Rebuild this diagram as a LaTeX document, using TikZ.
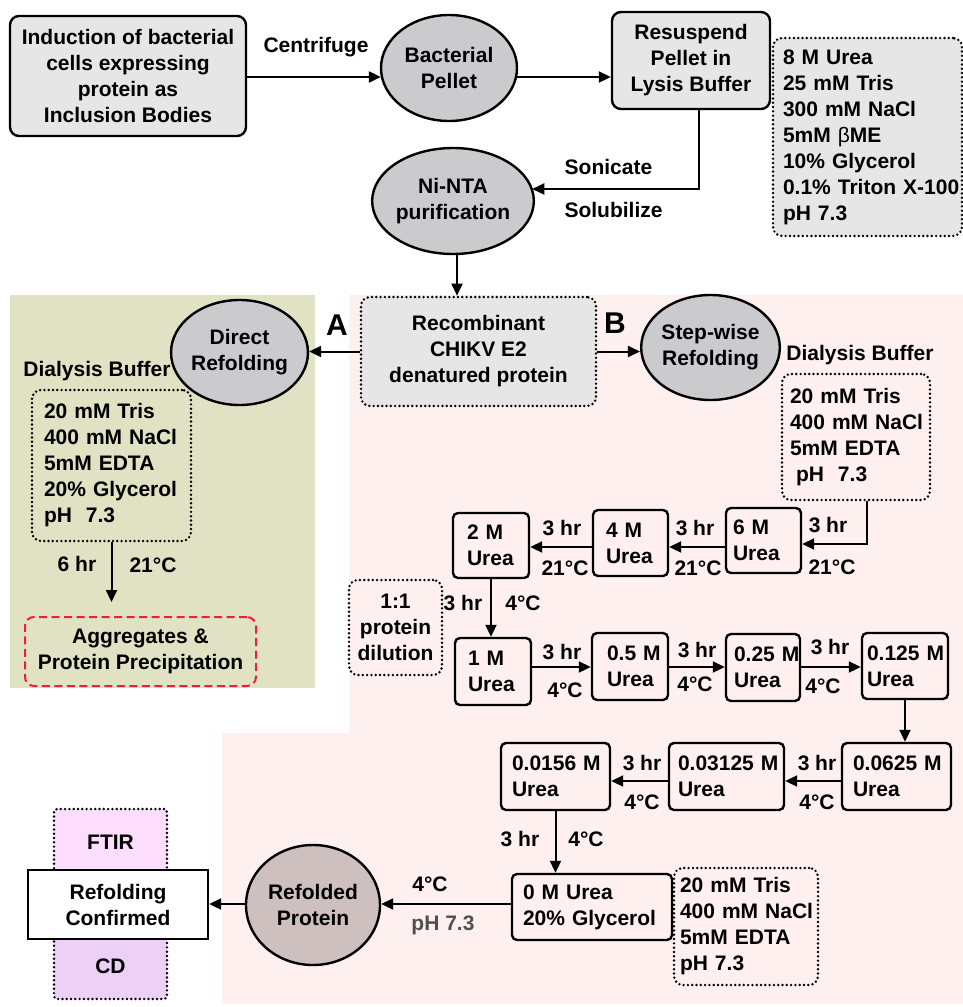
\documentclass[tikz,border=0pt]{standalone}
\usepackage{fontspec}
\setmainfont{Liberation Sans}
\usetikzlibrary{arrows.meta,shapes.geometric}
\definecolor{greenbg}{HTML}{E1E1C3}
\definecolor{pinkbg}{HTML}{FDF0EF}
\definecolor{boxgray}{HTML}{E6E6E6}
\definecolor{ellgray}{HTML}{CBCACD}
\definecolor{refold}{HTML}{CEC0BE}
\definecolor{ftircol}{HTML}{FDDDFC}
\definecolor{cdcol}{HTML}{EDD0F5}
\definecolor{aggred}{HTML}{E8203A}
\definecolor{phgray}{HTML}{505050}
\newcommand{\keepline}[1]{\mbox{#1}}
\begin{document}
\begin{tikzpicture}[x=1pt,y=-1pt,
  every node/.style={font=\fontsize{21}{26}\selectfont\bfseries, inner sep=0pt},
  arr/.style={line width=2pt,-{Triangle[length=12pt,width=11pt]}},
  solidbox/.style={draw, line width=2.4pt, rounded corners=9pt, fill=boxgray, align=center},
  dotbox/.style={draw, line width=2.7pt, dash pattern=on 0pt off 4.3pt, line cap=round, rounded corners=9pt},
  ell/.style={ellipse, draw, line width=2.4pt, fill=ellgray, align=center},
  ubox/.style={draw, line width=2.4pt, rounded corners=5pt, align=left},
  biglab/.style={font=\fontsize{30}{30}\selectfont\bfseries}
]
\useasboundingbox (0,0) rectangle (963,1007);
% backgrounds
\fill[greenbg] (10,295) rectangle (315,688);
\fill[pinkbg] (349,295) -- (963,295) -- (963,1004) -- (222,1004) -- (222,733) -- (349,733) -- cycle;

% helper coordinates
\coordinate (y77) at (0,77);
\coordinate (c1) at (699,189);
\coordinate (x457) at (457,0);
\coordinate (c2) at (867,544);
\coordinate (y547) at (0,547);
\coordinate (y667) at (0,667);
\coordinate (y781) at (0,781);
\coordinate (y904) at (0,904);

% top row
\node[solidbox, minimum width=236pt, minimum height=120pt] (ind) at (128,76) {Induction of bacterial\\cells expressing\\protein as\\Inclusion Bodies};
\node[ell, minimum width=136pt, minimum height=106pt] (bp) at (449,68) {Bacterial\\Pellet};
\node[solidbox, minimum width=158pt, minimum height=97pt] (res) at (691,60.5) {Resuspend\\Pellet in\\Lysis Buffer};
\node[dotbox, fill=boxgray, minimum width=189pt, minimum height=198pt, text width=169pt, inner xsep=10pt, align=left] (lys) at (867.5,137) {8~M~Urea\\25~mM~Tris\\300~mM~NaCl\\5mM~{\mdseries β}ME\\10\%~Glycerol\\\keepline{0.1\% Triton X-100}\\pH~7.3};
\node[ell, minimum width=137pt, minimum height=106pt] (ni) at (453,201) {Ni-NTA\\purification};

\node (lcent) at (316,47) {Centrifuge};
\node (lson) at (608.5,167) {Sonicate};
\node (lsol) at (613.5,210) {Solubilize};

\draw[arr] (ind.east |- y77) -- (bp.188 |- y77);
\draw[arr] (bp.352 |- y77) -- (res.west |- y77);
\draw[arr] (res.south -| c1) -- (c1) -- (ni.10 |- c1);

% recombinant and branches
\node[dotbox, fill=boxgray, minimum width=235pt, minimum height=109pt, align=center] (rec) at (478.5,351.5) {Recombinant\\CHIKV E2\\denatured protein};
\draw[arr] (ni.south -| x457) -- (rec.north -| x457);
\node[ell, minimum width=135pt, minimum height=105pt] (dr) at (239.5,352.5) {Direct\\Refolding};
\node[ell, minimum width=135pt, minimum height=105pt] (sw) at (710.5,347.5) {Step-wise\\Refolding};
\node[biglab] (A) at (337,325) {A};
\node[biglab] (B) at (615,323) {B};
\draw[arr] (rec.west) -- (dr.east |- rec.west);
\draw[arr] (rec.east) -- (sw.west |- rec.east);

% branch A
\node (dbl) at (97,371) {Dialysis Buffer};
\node[dotbox, minimum width=159pt, minimum height=151pt, text width=135pt, inner xsep=12pt, align=left] (bl) at (111.5,465.5) {20~mM~Tris\\400~mM~NaCl\\5mM~EDTA\\20\%~Glycerol\\pH~~7.3};
\node[draw=aggred, line width=2pt, dash pattern=on 8pt off 4.5pt, rounded corners=9pt, minimum width=231pt, minimum height=69pt, align=center] (agg) at (140.5,651.5) {Aggregates \&\\Protein Precipitation};
\draw[arr, shorten >=14pt] (bl.south) -- (agg.north -| bl.south);
\node (l6hr) at (77,564) {6 hr};
\node (l21a) at (153,565) {21°C};

% branch B
\node (dbr) at (860,355) {Dialysis Buffer};
\node[dotbox, minimum width=148pt, minimum height=126pt, text width=132pt, inner xsep=8pt, align=left] (br) at (856,437) {20~mM~Tris\\400~mM~NaCl\\5mM~EDTA\\\hspace*{6pt}pH~~7.3};

\node[ubox, minimum width=75pt, minimum height=65pt, text width=61pt, inner xsep=7pt] (u6) at (763.5,540.5) {6~M\\Urea};
\node[ubox, minimum width=75pt, minimum height=66pt, text width=49pt, inner xsep=13pt] (u4) at (630.5,543) {4~M\\Urea};
\node[ubox, minimum width=76pt, minimum height=65pt, text width=48pt, inner xsep=14pt] (u2) at (491,545.5) {2~M\\Urea};
\node[dotbox, minimum width=93pt, minimum height=95pt, align=center] (dil) at (395.5,627.5) {1:1\\protein\\dilution};
\node[ubox, minimum width=76pt, minimum height=67pt, text width=50pt, inner xsep=13pt] (u1) at (493,671.5) {1~M\\Urea};
\node[ubox, minimum width=76pt, minimum height=67pt, text width=46pt, inner xsep=15pt] (u05) at (630,666.5) {0.5~M\\Urea};
\node[ubox, minimum width=74pt, minimum height=67pt, text width=58pt, inner xsep=8pt] (u025) at (763,667.5) {0.25~M\\Urea};
\node[ubox, minimum width=86pt, minimum height=66pt, text width=76pt, inner xsep=5pt] (u0125) at (905,666) {0.125~M\\Urea};
\node[ubox, minimum width=109pt, minimum height=67pt, text width=87pt, inner xsep=11pt] (u0625) at (896.5,776.5) {0.0625~M\\Urea};
\node[ubox, minimum width=115pt, minimum height=67pt, text width=97pt, inner xsep=9pt] (u03125) at (726.5,776.5) {0.03125~M\\Urea};
\node[ubox, minimum width=109pt, minimum height=67pt, text width=87pt, inner xsep=11pt] (u0156) at (555.5,776.5) {0.0156~M\\Urea};
\node[ubox, minimum width=160pt, minimum height=66pt, text width=138pt, inner xsep=11pt] (u0) at (592,907) {0~M~Urea\\20\%~Glycerol};
\node[dotbox, minimum width=144pt, minimum height=117pt, text width=132pt, inner xsep=6pt, align=left] (bb) at (746,926.5) {20~mM~Tris\\400~mM~NaCl\\5mM~EDTA\\pH~7.3};

\draw[arr] (br.south -| c2) -- (c2) -- (u6.east |- c2);
\draw[arr] (u6.west |- y547) -- (u4.east |- y547);
\draw[arr] (u4.west |- y547) -- (u2.east |- y547);
\draw[arr] (u2.south) -- (u1.north -| u2.south);
\draw[arr] (u1.east |- y667) -- (u05.west |- y667);
\draw[arr] (u05.east |- y667) -- (u025.west |- y667);
\draw[arr] (u025.east |- y667) -- (u0125.west |- y667);
\draw[arr] (u0125.south) -- (u0625.north -| u0125.south);
\draw[arr] (u0625.west |- y781) -- (u03125.east |- y781);
\draw[arr] (u03125.west |- y781) -- (u0156.east |- y781);
\draw[arr] (u0156.south) -- (u0.north -| u0156.south);

\node (t1) at (828,525) {3 hr};   \node (d1) at (832,567) {21°C};
\node (t2) at (695,528) {3 hr};   \node (d2) at (698,568) {21°C};
\node (t3) at (562,528) {3 hr};   \node (d3) at (565,568) {21°C};
\node (t4) at (463,603) {3 hr};   \node (d4) at (523,603) {4°C};
\node (t5) at (562,652) {3 hr};   \node (d5) at (565,690) {4°C};
\node (t6) at (697,650) {3 hr};   \node (d6) at (695,684) {4°C};
\node (t7) at (830,647) {3 hr};   \node (d7) at (823,686) {4°C};
\node (t8) at (817,763) {3 hr};   \node (d8) at (817,802) {4°C};
\node (t9) at (642,763) {3 hr};   \node (d9) at (642,802) {4°C};
\node (t10) at (520,839) {3 hr};  \node (d10) at (586,839) {4°C};

% bottom left
\node[ell, fill=refold, minimum width=134pt, minimum height=120pt] (rp) at (313,905) {Refolded\\Protein};
\node[dotbox, fill=ftircol, rounded corners=3pt, minimum width=113pt, minimum height=66pt] (ftir) at (110.5,842) {FTIR};
\node[dotbox, fill=cdcol, rounded corners=3pt, minimum width=113pt, minimum height=65pt] (cd) at (110.5,966.5) {CD};
\node[draw, line width=2.4pt, fill=white, minimum width=180pt, minimum height=69pt, align=center] (conf) at (118,904.5) {Refolding\\Confirmed};
\node (l4c) at (430,884) {4°C};
\node[text=phgray] (lph) at (443,925) {pH 7.3};
\draw[arr] (u0.west |- y904) -- (rp.east |- y904);
\draw[arr] (rp.west |- y904) -- (conf.east |- y904);
\end{tikzpicture}
\end{document}
